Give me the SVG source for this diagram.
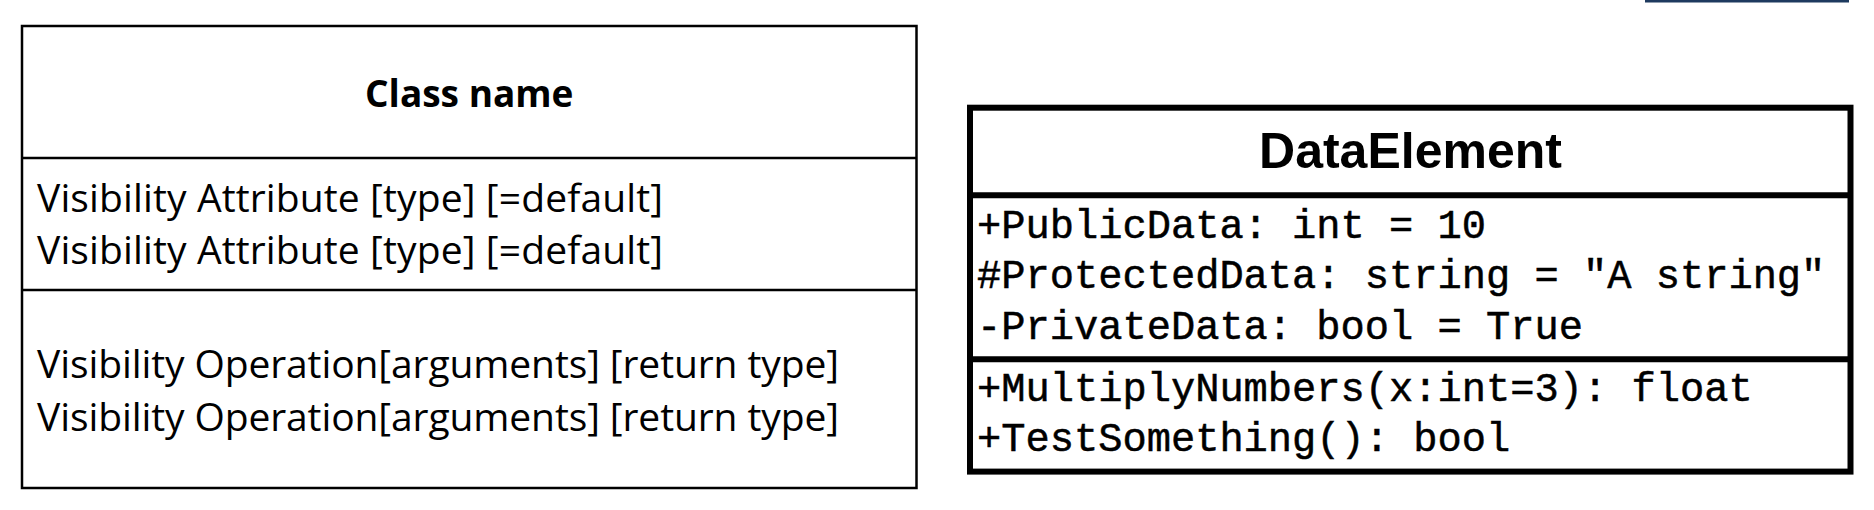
<svg xmlns="http://www.w3.org/2000/svg" width="1874" height="510" viewBox="0 0 1874 510">
<style>
.thin{fill:#fff;stroke:#000;stroke-width:2.5}
.thinl{stroke:#000;stroke-width:2.5}
.thick{fill:#fff;stroke:#000;stroke-width:6}
.thickl{stroke:#000;stroke-width:6}
.hdr{font-family:"Open Sans",sans-serif;font-weight:bold;font-size:37px;fill:#000}
.body{font-family:"Open Sans",sans-serif;font-size:39px;fill:#000}
.dhdr{font-family:"Liberation Sans",Arial,sans-serif;font-weight:bold;font-size:50px;fill:#000}
.mono{font-family:"Liberation Mono","Courier New",monospace;font-size:40.4px;fill:#000;stroke:#000;stroke-width:0.5}
</style>
<rect width="1874" height="510" fill="#fff"/>
<rect x="1645" y="-1" width="204" height="3.5" fill="#1e3a5f"/>
<g id="class-template">
<rect class="thin" x="22" y="26" width="894.5" height="462"/>
<line class="thinl" x1="22" y1="158" x2="916.5" y2="158"/>
<line class="thinl" x1="22" y1="290" x2="916.5" y2="290"/>
<text class="hdr" x="469.25" y="107.3" text-anchor="middle">Class name</text>
<text class="body" x="37" y="211.6" textLength="626" lengthAdjust="spacing">Visibility Attribute [type] [=default]</text>
<text class="body" x="37" y="264" textLength="626" lengthAdjust="spacing">Visibility Attribute [type] [=default]</text>
<text class="body" x="37" y="378.3" textLength="802" lengthAdjust="spacing">Visibility Operation[arguments] [return type]</text>
<text class="body" x="37" y="430.7" textLength="802" lengthAdjust="spacing">Visibility Operation[arguments] [return type]</text>
</g>
<g id="data-element">
<rect class="thick" x="970" y="107.7" width="880.5" height="363.9"/>
<line class="thickl" x1="970" y1="195.3" x2="1850.5" y2="195.3"/>
<line class="thickl" x1="970" y1="359.3" x2="1850.5" y2="359.3"/>
<text class="dhdr" x="1410.5" y="167.5" text-anchor="middle">DataElement</text>
<text class="mono" x="977" y="238.3">+PublicData: int = 10</text>
<text class="mono" x="977" y="288.3">#ProtectedData: string = "A string"</text>
<text class="mono" x="977" y="339">-PrivateData: bool = True</text>
<text class="mono" x="977" y="401">+MultiplyNumbers(x:int=3): float</text>
<text class="mono" x="977" y="451">+TestSomething(): bool</text>
</g>
<g id="connectors"></g>
</svg>
